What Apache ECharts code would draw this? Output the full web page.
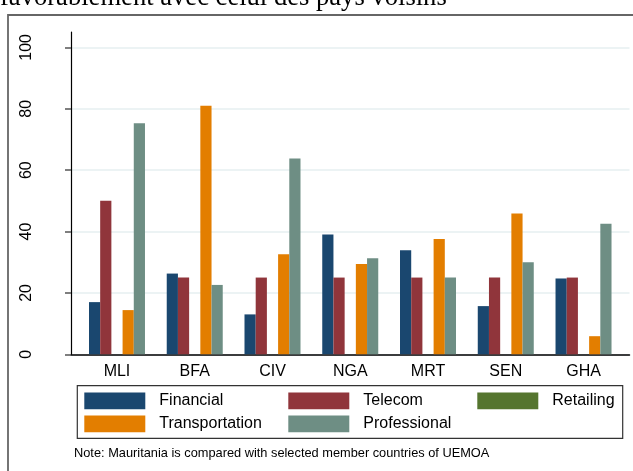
<!DOCTYPE html>
<html>
<head>
<meta charset="utf-8">
<script src="https://cdn.jsdelivr.net/npm/echarts@6/dist/echarts.min.js"></script>
<style>
  html, body { margin: 0; padding: 0; background: #fff; }
  #chart { width: 633px; height: 471px; }
</style>
</head>
<body>
<div id="chart"></div>
<script>
var countries = ['MLI', 'BFA', 'CIV', 'NGA', 'MRT', 'SEN', 'GHA'];
var financial = [17.0, 26.3, 13.0, 39.0, 33.9, 15.7, 24.7];
var telecom = [50.0, 25.0, 25.0, 25.0, 25.0, 25.0, 25.0];
var retailing = [0, 0, 0, 0, 0, 0, 0];
var transportation = [14.4, 81.0, 32.6, 29.4, 37.6, 45.9, 5.9];
var professional = [75.3, 22.6, 63.8, 31.3, 25.0, 30.0, 42.5];
var yTicks = [0, 20, 40, 60, 80, 100];

var font = 'Liberation Sans, Arial, sans-serif';
var colors = {
    Financial: '#1a476f',
    Telecom: '#90353b',
    Retailing: '#55752f',
    Transportation: '#e37e00',
    Professional: '#6e8e84'
};

function barSeries(name, data) {
    return {
        name: name,
        type: 'bar',
        xAxisIndex: 1,
        yAxisIndex: 1,
        barWidth: 11.2,
        barGap: '0%',
        itemStyle: { color: colors[name] },
        data: data
    };
}

function legendCol(left, names) {
    return {
        orient: 'vertical',
        left: left,
        top: 392.5,
        padding: 0,
        itemWidth: 61,
        itemHeight: 16.7,
        itemGap: 6.3,
        icon: 'rect',
        selectedMode: false,
        textStyle: { fontFamily: font, fontSize: 16, color: '#000', padding: [2, 0, 0, 9] },
        data: names
    };
}

var chart = echarts.init(document.getElementById('chart'));
var option = {
    animation: false,
    backgroundColor: '#fff',
    grid: [
        { left: 71, right: 3.5, top: 32, bottom: 116.7 },
        { left: 78.1, right: 10.6, top: 32, bottom: 116.7 }
    ],
    xAxis: [
        {
            type: 'value', gridIndex: 0, min: 0, max: 1,
            axisLine: { show: true, lineStyle: { color: '#000', width: 1.5 } },
            axisTick: { show: false }, axisLabel: { show: false }, splitLine: { show: false }
        },
        {
            type: 'category', gridIndex: 1, data: countries,
            axisLine: { show: false }, axisTick: { show: false },
            axisLabel: { fontFamily: font, fontSize: 16, color: '#000', margin: 9 }
        }
    ],
    yAxis: [
        {
            type: 'value', gridIndex: 0, min: 0, max: 105, interval: 20,
            axisLine: { show: true, lineStyle: { color: '#000', width: 1.2 } },
            axisTick: { show: true, length: 6, customValues: yTicks, lineStyle: { color: '#555', width: 1.5 } },
            axisLabel: { customValues: yTicks, rotate: 90, fontFamily: font, fontSize: 16, color: '#000', margin: 36 },
            splitLine: { show: true, lineStyle: { color: '#e6eff1', width: 1.5 } }
        },
        {
            type: 'value', gridIndex: 1, min: 0, max: 105, show: false
        }
    ],
    legend: [
        legendCol(84.3, ['Financial', 'Transportation']),
        legendCol(288.3, ['Telecom', 'Professional']),
        legendCol(477.3, ['Retailing'])
    ],
    graphic: [
        {
            type: 'rect', silent: true, z: -1,
            shape: { x: 8, y: 15, width: 700, height: 500 },
            style: { fill: 'none', stroke: '#666', lineWidth: 1.8 }
        },
        {
            type: 'rect', silent: true,
            shape: { x: 77.3, y: 385.7, width: 545.4, height: 52.6 },
            style: { fill: 'none', stroke: '#333', lineWidth: 1.2 }
        },
        {
            type: 'text', silent: true, left: 74, top: 446.5,
            style: { text: 'Note: Mauritania is compared with selected member countries of UEMOA', font: '12.8px ' + font, fill: '#000' }
        },
        {
            type: 'text', silent: true, left: 0, top: -15.5,
            style: { text: 'favorablement avec celui des pays voisins', font: '26.6px Liberation Serif, Times New Roman, serif', fill: '#000' }
        }
    ],
    series: [
        barSeries('Financial', financial),
        barSeries('Telecom', telecom),
        barSeries('Retailing', retailing),
        barSeries('Transportation', transportation),
        barSeries('Professional', professional)
    ]
};
chart.setOption(option);
</script>
</body>
</html>
